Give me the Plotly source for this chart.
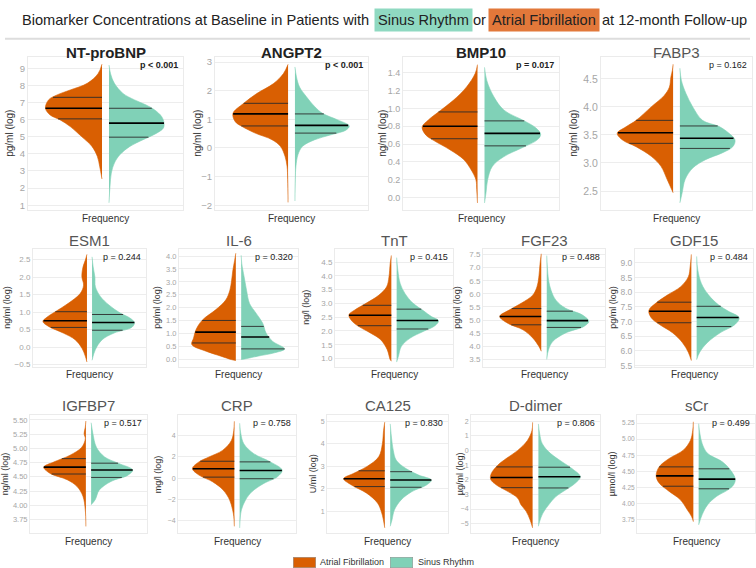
import plotly.graph_objects as go
import numpy as np

W_PX, H_PX = 756, 568
AF_COLOR = "#D95F02"
SR_COLOR = "#80D1B7"

# ---------------- data ----------------
MARKERS = ["NT-proBNP", "ANGPT2", "BMP10", "FABP3",
           "ESM1", "IL-6", "TnT", "FGF23", "GDF15",
           "IGFBP7", "CRP", "CA125", "D-dimer", "sCr"]
UNITS = ["pg/ml (log)", "ng/ml (log)", "ng/ml (log)", "ng/ml (log)",
         "ng/ml (log)", "pg/ml (log)", "ng/l (log)", "pg/ml (log)", "pg/ml (log)",
         "ng/ml (log)", "mg/l (log)", "U/ml (log)", "µg/ml (log)", "µmol/l (log)"]
P_LABELS = ["p < 0.001", "p < 0.001", "p = 0.017", "p = 0.162",
            "p = 0.244", "p = 0.320", "p = 0.415", "p = 0.488", "p = 0.484",
            "p = 0.517", "p = 0.758", "p = 0.830", "p = 0.806", "p = 0.499"]
SIGNIFICANT = [True, True, True, False,
               False, False, False, False, False,
               False, False, False, False, False]
GROUPS = ["Atrial Fibrillation", "Sinus Rhythm"]

# density profiles: y knots (top -> bottom), relative half widths, quartiles [q1, median, q3]
NTPROBNP_AF_Y = [9.25, 8.7, 8.13, 7.74, 7.45, 7.16, 6.67, 6.28, 5.99, 5.6, 5.0, 4.44, 3.85, 3.27, 2.53]
NTPROBNP_AF_W = [0, 0.05, 0.19, 0.41, 0.58, 0.69, 0.73, 0.67, 0.54, 0.41, 0.26, 0.13, 0.06, 0.03, 0]
NTPROBNP_AF_Q = [6.05, 6.67, 7.31]
NTPROBNP_SR_Y = [9.2, 8.7, 8.13, 7.54, 7.16, 6.86, 6.57, 6.18, 5.8, 5.5, 5.2, 4.83, 4.44, 3.95, 3.47, 2.88, 2.1, 1.14]
NTPROBNP_SR_W = [0, 0.02, 0.07, 0.18, 0.33, 0.48, 0.59, 0.68, 0.71, 0.70, 0.61, 0.44, 0.27, 0.14, 0.07, 0.03, 0.013, 0]
NTPROBNP_SR_Q = [4.98, 5.8, 6.67]

ANGPT2_AF_Y = [2.92, 2.6, 2.25, 1.9, 1.56, 1.21, 0.92, 0.75, 0.52, 0.29, 0.06, -0.29, -0.64, -1.1, -1.9]
ANGPT2_AF_W = [0, 0.06, 0.19, 0.41, 0.58, 0.72, 0.69, 0.60, 0.43, 0.21, 0.10, 0.04, 0.013, 0.005, 0]
ANGPT2_AF_Q = [0.77, 1.19, 1.56]
ANGPT2_SR_Y = [2.83, 2.48, 2.13, 1.79, 1.44, 1.21, 0.98, 0.77, 0.63, 0.46, 0.29, 0.06, -0.23, -0.64, -1.1, -1.85]
ANGPT2_SR_W = [0, 0.02, 0.06, 0.15, 0.26, 0.36, 0.56, 0.71, 0.67, 0.47, 0.26, 0.10, 0.04, 0.013, 0.005, 0]
ANGPT2_SR_Q = [0.52, 0.79, 1.19]

BMP10_AF_Y = [1.49, 1.39, 1.24, 1.09, 0.96, 0.87, 0.79, 0.70, 0.65, 0.54, 0.43, 0.31, 0.2, 0.09, -0.06]
BMP10_AF_W = [0, 0.03, 0.14, 0.31, 0.50, 0.63, 0.71, 0.66, 0.58, 0.36, 0.18, 0.08, 0.02, 0.01, 0]
BMP10_AF_Q = [0.66, 0.80, 0.96]
BMP10_SR_Y = [1.46, 1.31, 1.13, 0.98, 0.86, 0.78, 0.71, 0.65, 0.57, 0.46, 0.35, 0.2, 0.06, -0.06]
BMP10_SR_W = [0, 0.03, 0.12, 0.25, 0.51, 0.66, 0.72, 0.68, 0.51, 0.25, 0.10, 0.04, 0.02, 0]
BMP10_SR_Q = [0.58, 0.72, 0.86]

FABP3_AF_Y = [4.76, 4.65, 4.53, 4.35, 4.2, 4.0, 3.76, 3.64, 3.53, 3.41, 3.29, 3.12, 2.94, 2.71, 2.47]
FABP3_AF_W = [0, 0.01, 0.03, 0.05, 0.12, 0.29, 0.49, 0.63, 0.74, 0.67, 0.49, 0.29, 0.16, 0.08, 0]
FABP3_AF_Q = [3.35, 3.54, 3.76]
FABP3_SR_Y = [4.69, 4.47, 4.24, 4.0, 3.76, 3.65, 3.53, 3.41, 3.29, 3.18, 3.06, 2.91, 2.71, 2.47, 2.29]
FABP3_SR_W = [0, 0.02, 0.08, 0.17, 0.30, 0.52, 0.65, 0.73, 0.70, 0.56, 0.34, 0.17, 0.07, 0.03, 0]
FABP3_SR_Q = [3.26, 3.44, 3.66]

ESM1_AF_Y = [2.65, 2.48, 2.29, 2.01, 1.77, 1.53, 1.25, 1.01, 0.85, 0.73, 0.59, 0.40, 0.21, -0.03, -0.26, -0.43]
ESM1_AF_W = [0, 0.03, 0.07, 0.09, 0.06, 0.12, 0.33, 0.56, 0.71, 0.78, 0.68, 0.42, 0.21, 0.09, 0.03, 0]
ESM1_AF_Q = [0.56, 0.75, 1.01]
ESM1_SR_Y = [2.58, 2.29, 2.01, 1.72, 1.44, 1.2, 0.97, 0.83, 0.70, 0.57, 0.4, 0.21, -0.07, -0.38]
ESM1_SR_W = [0, 0.02, 0.05, 0.06, 0.15, 0.30, 0.50, 0.67, 0.75, 0.71, 0.39, 0.18, 0.06, 0]
ESM1_SR_Q = [0.48, 0.70, 0.93]

IL6_AF_Y = [4.11, 3.83, 3.45, 3.07, 2.68, 2.3, 1.92, 1.53, 1.15, 0.83, 0.58, 0.32, 0.13, 0.0, -0.04]
IL6_AF_W = [0, 0.02, 0.05, 0.07, 0.10, 0.17, 0.34, 0.56, 0.67, 0.71, 0.74, 0.50, 0.25, 0.08, 0]
IL6_AF_Q = [0.64, 1.06, 1.51]
IL6_SR_Y = [4.03, 3.71, 3.19, 2.68, 2.17, 1.79, 1.41, 1.02, 0.70, 0.41, 0.26, 0.13, 0.03, 0.0]
IL6_SR_W = [0, 0.01, 0.05, 0.09, 0.14, 0.25, 0.36, 0.42, 0.53, 0.73, 0.56, 0.28, 0.08, 0]
IL6_SR_Q = [0.41, 0.87, 1.28]

TNT_AF_Y = [4.74, 4.44, 3.96, 3.6, 3.3, 3.0, 2.76, 2.58, 2.34, 2.16, 1.92, 1.68, 1.32, 0.96, 0.9]
TNT_AF_W = [0, 0.02, 0.04, 0.08, 0.21, 0.43, 0.62, 0.72, 0.66, 0.55, 0.35, 0.18, 0.07, 0.02, 0]
TNT_AF_Q = [2.19, 2.57, 2.93]
TNT_SR_Y = [4.66, 4.2, 3.72, 3.36, 3.0, 2.74, 2.52, 2.37, 2.19, 1.98, 1.74, 1.44, 1.08, 0.87]
TNT_SR_W = [0, 0.02, 0.06, 0.14, 0.28, 0.45, 0.59, 0.71, 0.65, 0.45, 0.23, 0.08, 0.03, 0]
TNT_SR_Q = [2.07, 2.38, 2.79]

FGF23_AF_Y = [7.53, 7.15, 6.64, 6.27, 5.95, 5.64, 5.39, 5.14, 4.88, 4.63, 4.32, 4.0, 3.81]
FGF23_AF_W = [0, 0.02, 0.04, 0.07, 0.14, 0.33, 0.52, 0.68, 0.55, 0.30, 0.14, 0.04, 0]
FGF23_AF_Q = [4.82, 5.14, 5.44]
FGF23_SR_Y = [7.46, 7.02, 6.52, 6.14, 5.76, 5.45, 5.2, 4.95, 4.76, 4.51, 4.19, 3.88, 3.5]
FGF23_SR_W = [0, 0.01, 0.03, 0.07, 0.15, 0.31, 0.58, 0.69, 0.61, 0.31, 0.10, 0.03, 0]
FGF23_SR_Q = [4.72, 4.98, 5.34]

GDF15_AF_Y = [9.29, 8.87, 8.53, 8.19, 7.91, 7.63, 7.38, 7.13, 6.9, 6.62, 6.28, 5.95, 5.67]
GDF15_AF_W = [0, 0.02, 0.05, 0.18, 0.40, 0.60, 0.72, 0.68, 0.54, 0.32, 0.15, 0.05, 0]
GDF15_AF_Q = [6.96, 7.35, 7.66]
GDF15_SR_Y = [9.22, 8.75, 8.3, 7.91, 7.57, 7.35, 7.13, 6.9, 6.62, 6.28, 5.95, 5.7]
GDF15_SR_W = [0, 0.02, 0.08, 0.20, 0.37, 0.54, 0.72, 0.65, 0.40, 0.18, 0.05, 0]
GDF15_SR_Q = [6.83, 7.14, 7.52]

IGFBP7_AF_Y = [5.48, 5.37, 5.26, 5.17, 5.02, 4.88, 4.76, 4.67, 4.56, 4.45, 4.33, 4.16, 3.92, 3.63]
IGFBP7_AF_W = [0, 0.01, 0.03, 0.01, 0.07, 0.27, 0.55, 0.72, 0.61, 0.32, 0.15, 0.05, 0.01, 0]
IGFBP7_AF_Q = [4.55, 4.67, 4.82]
IGFBP7_SR_Y = [5.45, 5.26, 5.02, 4.85, 4.74, 4.62, 4.53, 4.42, 4.27, 4.1, 4.01]
IGFBP7_SR_W = [0, 0.03, 0.09, 0.23, 0.46, 0.71, 0.63, 0.34, 0.14, 0.07, 0]
IGFBP7_SR_Q = [4.49, 4.62, 4.74]

CRP_AF_Y = [5.33, 4.47, 3.53, 2.6, 1.98, 1.52, 0.9, 0.28, -0.34, -1.12, -2.05, -2.98, -3.6, -4.53]
CRP_AF_W = [0, 0.01, 0.05, 0.20, 0.43, 0.60, 0.71, 0.60, 0.37, 0.19, 0.08, 0.03, 0.01, 0]
CRP_AF_Q = [0.09, 0.87, 1.58]
CRP_SR_Y = [5.15, 4.16, 3.22, 2.29, 1.52, 0.74, 0.12, -0.5, -1.27, -2.05, -2.98, -3.75, -4.68]
CRP_SR_W = [0, 0.02, 0.07, 0.24, 0.52, 0.72, 0.64, 0.41, 0.21, 0.10, 0.03, 0.01, 0]
CRP_SR_Q = [-0.06, 0.71, 1.52]

CA125_AF_Y = [4.96, 4.59, 4.0, 3.42, 2.98, 2.68, 2.45, 2.17, 1.81, 1.37, 0.93, 0.27]
CA125_AF_W = [0, 0.02, 0.04, 0.10, 0.30, 0.52, 0.68, 0.55, 0.30, 0.12, 0.05, 0]
CA125_AF_Q = [2.10, 2.45, 2.80]
CA125_SR_Y = [4.88, 4.3, 3.71, 3.27, 2.9, 2.61, 2.39, 2.17, 1.88, 1.51, 1.07, 0.63, 0.34]
CA125_SR_W = [0, 0.02, 0.05, 0.10, 0.26, 0.47, 0.68, 0.60, 0.36, 0.18, 0.07, 0.03, 0]
CA125_SR_Q = [2.07, 2.39, 2.76]

DDIMER_AF_Y = [1.93, 1.37, 0.69, 0.01, -0.55, -1.0, -1.57, -1.97, -2.36, -2.81, -3.26, -3.71, -4.16, -4.73, -5.29]
DDIMER_AF_W = [0, 0.01, 0.08, 0.23, 0.41, 0.54, 0.64, 0.65, 0.56, 0.38, 0.23, 0.18, 0.10, 0.04, 0]
DDIMER_AF_Q = [-2.54, -1.84, -1.12]
DDIMER_SR_Y = [1.82, 1.14, 0.47, -0.21, -0.78, -1.23, -1.79, -2.24, -2.7, -3.15, -3.71, -4.28, -4.84, -5.18]
DDIMER_SR_W = [0, 0.02, 0.06, 0.19, 0.37, 0.52, 0.65, 0.57, 0.42, 0.27, 0.16, 0.07, 0.02, 0]
DDIMER_SR_Q = [-2.56, -1.79, -1.14]

SCR_AF_Y = [5.27, 5.14, 4.98, 4.83, 4.7, 4.57, 4.43, 4.32, 4.19, 4.06, 3.9, 3.8, 3.72]
SCR_AF_W = [0, 0.01, 0.05, 0.17, 0.41, 0.58, 0.63, 0.58, 0.41, 0.22, 0.10, 0.03, 0]
SCR_AF_Q = [4.27, 4.43, 4.57]
SCR_SR_Y = [5.24, 5.09, 4.93, 4.78, 4.65, 4.52, 4.38, 4.29, 4.21, 4.11, 3.98, 3.83, 3.67]
SCR_SR_W = [0, 0.02, 0.06, 0.15, 0.40, 0.54, 0.62, 0.59, 0.49, 0.30, 0.15, 0.06, 0]
SCR_SR_Q = [4.23, 4.38, 4.54]

AF_DATA = [(NTPROBNP_AF_Y, NTPROBNP_AF_W, NTPROBNP_AF_Q), (ANGPT2_AF_Y, ANGPT2_AF_W, ANGPT2_AF_Q),
           (BMP10_AF_Y, BMP10_AF_W, BMP10_AF_Q), (FABP3_AF_Y, FABP3_AF_W, FABP3_AF_Q),
           (ESM1_AF_Y, ESM1_AF_W, ESM1_AF_Q), (IL6_AF_Y, IL6_AF_W, IL6_AF_Q),
           (TNT_AF_Y, TNT_AF_W, TNT_AF_Q), (FGF23_AF_Y, FGF23_AF_W, FGF23_AF_Q),
           (GDF15_AF_Y, GDF15_AF_W, GDF15_AF_Q), (IGFBP7_AF_Y, IGFBP7_AF_W, IGFBP7_AF_Q),
           (CRP_AF_Y, CRP_AF_W, CRP_AF_Q), (CA125_AF_Y, CA125_AF_W, CA125_AF_Q),
           (DDIMER_AF_Y, DDIMER_AF_W, DDIMER_AF_Q), (SCR_AF_Y, SCR_AF_W, SCR_AF_Q)]
SR_DATA = [(NTPROBNP_SR_Y, NTPROBNP_SR_W, NTPROBNP_SR_Q), (ANGPT2_SR_Y, ANGPT2_SR_W, ANGPT2_SR_Q),
           (BMP10_SR_Y, BMP10_SR_W, BMP10_SR_Q), (FABP3_SR_Y, FABP3_SR_W, FABP3_SR_Q),
           (ESM1_SR_Y, ESM1_SR_W, ESM1_SR_Q), (IL6_SR_Y, IL6_SR_W, IL6_SR_Q),
           (TNT_SR_Y, TNT_SR_W, TNT_SR_Q), (FGF23_SR_Y, FGF23_SR_W, FGF23_SR_Q),
           (GDF15_SR_Y, GDF15_SR_W, GDF15_SR_Q), (IGFBP7_SR_Y, IGFBP7_SR_W, IGFBP7_SR_Q),
           (CRP_SR_Y, CRP_SR_W, CRP_SR_Q), (CA125_SR_Y, CA125_SR_W, CA125_SR_Q),
           (DDIMER_SR_Y, DDIMER_SR_W, DDIMER_SR_Q), (SCR_SR_Y, SCR_SR_W, SCR_SR_Q)]

# ---------------- layout (pixel geometry) ----------------
# x0, x1, y0(top), y1(bottom), ylo, yhi, tick0, dtick, tickformat, tickfont, ylab_x, title_y
GEOM = [
    (28, 183, 57, 211, 0.71, 9.64, 1, 1, "d", 9.5, 10, 52),
    (215, 368, 57, 211, -2.17, 3.16, -2, 1, "d", 9.5, 198, 52),
    (403, 559, 57, 211, -0.14, 1.57, 0, 0.2, ".1f", 9, 383, 52),
    (601, 752, 57, 211, 2.16, 4.88, 2.5, 0.5, ".1f", 10.5, 574, 52),
    (33, 146, 250, 369, -0.565, 2.81, -0.5, 0.5, ".1f", 8, 7, 242),
    (179, 298, 250, 369, -0.28, 4.28, 0, 0.5, ".1f", 7.5, 157, 242),
    (335, 453, 250, 369, 0.70, 4.98, 1.0, 0.5, ".1f", 8, 306, 242),
    (483, 605, 250, 369, 3.22, 7.72, 3.5, 0.5, ".1f", 8, 457, 242),
    (635, 753, 250, 369, 5.46, 9.48, 5.5, 0.5, ".1f", 8.5, 613, 242),
    (30, 147, 418, 537, 3.51, 5.58, 3.75, 0.25, ".2f", 7.5, 5, 408),
    (178, 296, 418, 537, -5.18, 5.89, -4, 2, "d", 7, 158, 408),
    (327, 448, 418, 537, 0.03, 5.26, 1, 1, "d", 7, 313, 408),
    (471, 600, 418, 537, -5.66, 2.41, -5, 1, "d", 7, 460, 408),
    (637, 755, 418, 537, 3.54, 5.37, 3.75, 0.25, ".2f", 6.5, 612, 408),
]

FONT = "Liberation Sans, Arial, sans-serif"
GAP = 0.045
COLORS = [AF_COLOR, SR_COLOR]

fig = go.Figure()
annotations = []
layout_axes = {}


def px_x(x):
    return x / W_PX


def px_y(y):
    return 1 - y / H_PX


for i, name in enumerate(MARKERS):
    k = i + 1
    xa = "x" if k == 1 else f"x{k}"
    ya = "y" if k == 1 else f"y{k}"
    x0, x1, y0, y1, lo, hi, t0, dt, fmt, tf, ylx, ty = GEOM[i]

    for side, data, color, lname in ((-1, AF_DATA[i], AF_COLOR, GROUPS[0]),
                                     (1, SR_DATA[i], SR_COLOR, GROUPS[1])):
        ys, ws, qs = data
        ys = np.array(ys, dtype=float)
        ws = np.array(ws, dtype=float)
        xs = side * (GAP + ws)
        fig.add_trace(go.Scatter(
            x=xs, y=ys, xaxis=xa, yaxis=ya, mode="lines",
            line=dict(color=color, width=0.6, shape="spline", smoothing=1.0),
            fill="toself", fillcolor=color, hoverinfo="skip",
            name=lname, showlegend=False,
        ))
        ys_asc = ys[::-1]
        ws_asc = ws[::-1]
        for qi, q in enumerate(qs):
            wq = float(np.interp(q, ys_asc, ws_asc))
            fig.add_trace(go.Scatter(
                x=[side * GAP, side * (GAP + wq)], y=[q, q], xaxis=xa, yaxis=ya,
                mode="lines", hoverinfo="skip", showlegend=False,
                line=dict(color="#000000" if qi == 1 else "#2b2b2b",
                          width=1.6 if qi == 1 else 0.9),
            ))

    layout_axes["xaxis" if k == 1 else f"xaxis{k}"] = dict(
        domain=[px_x(x0), px_x(x1)], range=[-1, 1], anchor=ya,
        showticklabels=False, showgrid=False, zeroline=False, ticks="",
        showline=True, mirror=True, linecolor="#ebebeb", linewidth=1,
    )
    layout_axes["yaxis" if k == 1 else f"yaxis{k}"] = dict(
        domain=[px_y(y1), px_y(y0)], range=[lo, hi], anchor=xa,
        tickmode="linear", tick0=t0, dtick=dt, tickformat=fmt,
        tickfont=dict(size=tf, color="#A6A6A6", family=FONT),
        showgrid=True, gridcolor="#EDEDED", gridwidth=1, zeroline=False, ticks="",
        showline=True, mirror=True, linecolor="#ebebeb", linewidth=1,
    )

    annotations.append(dict(
        text=f"<b>{name}</b>" if SIGNIFICANT[i] else name,
        x=px_x((x0 + x1) / 2), y=px_y(ty), xref="paper", yref="paper",
        xanchor="center", yanchor="middle", showarrow=False,
        font=dict(size=15, color="#222222" if SIGNIFICANT[i] else "#555555", family=FONT),
    ))
    annotations.append(dict(
        text=f"<b>{P_LABELS[i]}</b>" if SIGNIFICANT[i] else P_LABELS[i],
        x=px_x(x1 - 3), y=px_y(y0 + 8), xref="paper", yref="paper",
        xanchor="right", yanchor="middle", showarrow=False,
        font=dict(size=9, color="#222222", family=FONT),
    ))
    annotations.append(dict(
        text=UNITS[i], textangle=-90,
        x=px_x(ylx), y=px_y((y0 + y1) / 2), xref="paper", yref="paper",
        xanchor="center", yanchor="middle", showarrow=False,
        font=dict(size=10 if i < 4 else 9, color="#333333", family=FONT),
    ))
    annotations.append(dict(
        text="Frequency",
        x=px_x((x0 + x1) / 2), y=px_y(y1 + 8), xref="paper", yref="paper",
        xanchor="center", yanchor="middle", showarrow=False,
        font=dict(size=10, color="#333333", family=FONT),
    ))

# main title pieces
TITLE_FONT = dict(size=14.6, color="#222222", family=FONT)
TY = 19
annotations += [
    dict(text="Biomarker Concentrations at Baseline in Patients with", x=px_x(371), y=px_y(TY),
         xanchor="right", yanchor="middle", xref="paper", yref="paper", showarrow=False, font=TITLE_FONT),
    dict(text="Sinus Rhythm", x=px_x(374), y=px_y(TY), bgcolor="#8FD9C1", borderpad=3,
         xanchor="left", yanchor="middle", xref="paper", yref="paper", showarrow=False, font=TITLE_FONT),
    dict(text="or", x=px_x(479.5), y=px_y(TY),
         xanchor="center", yanchor="middle", xref="paper", yref="paper", showarrow=False, font=TITLE_FONT),
    dict(text="Atrial Fibrillation", x=px_x(488), y=px_y(TY), bgcolor="#E2783A", borderpad=3,
         xanchor="left", yanchor="middle", xref="paper", yref="paper", showarrow=False, font=TITLE_FONT),
    dict(text="at 12-month Follow-up", x=px_x(600), y=px_y(TY),
         xanchor="left", yanchor="middle", xref="paper", yref="paper", showarrow=False, font=TITLE_FONT),
]

# legend keys (bottom)
LEG_Y = 566
for label, color, sx, tx in ((GROUPS[0], COLORS[0], 304, 318), (GROUPS[1], COLORS[1], 401.5, 416)):
    annotations.append(dict(text=" ", x=px_x(sx), y=px_y(LEG_Y), width=22, height=10,
                            bgcolor=color, bordercolor="#8a8a8a", borderwidth=0.5, borderpad=0,
                            xanchor="center", yanchor="middle", xref="paper", yref="paper",
                            showarrow=False, font=dict(size=6)))
    annotations.append(dict(text=label, x=px_x(tx), y=px_y(LEG_Y),
                            xanchor="left", yanchor="middle", xref="paper", yref="paper",
                            showarrow=False, font=dict(size=9, color="#333333", family=FONT)))

fig.update_layout(
    width=W_PX, height=H_PX,
    margin=dict(l=0, r=0, t=0, b=0),
    paper_bgcolor="white", plot_bgcolor="white",
    annotations=annotations,
    showlegend=False,
    shapes=[dict(type="line", xref="paper", yref="paper", x0=px_x(5), x1=px_x(750),
                 y0=px_y(38), y1=px_y(38), line=dict(color="#DDDDDD", width=2))],
    **layout_axes,
)

fig.write_html("out.html", config={"displayModeBar": False},
               post_script="document.body.style.margin='0px';document.body.style.overflow='hidden';")
